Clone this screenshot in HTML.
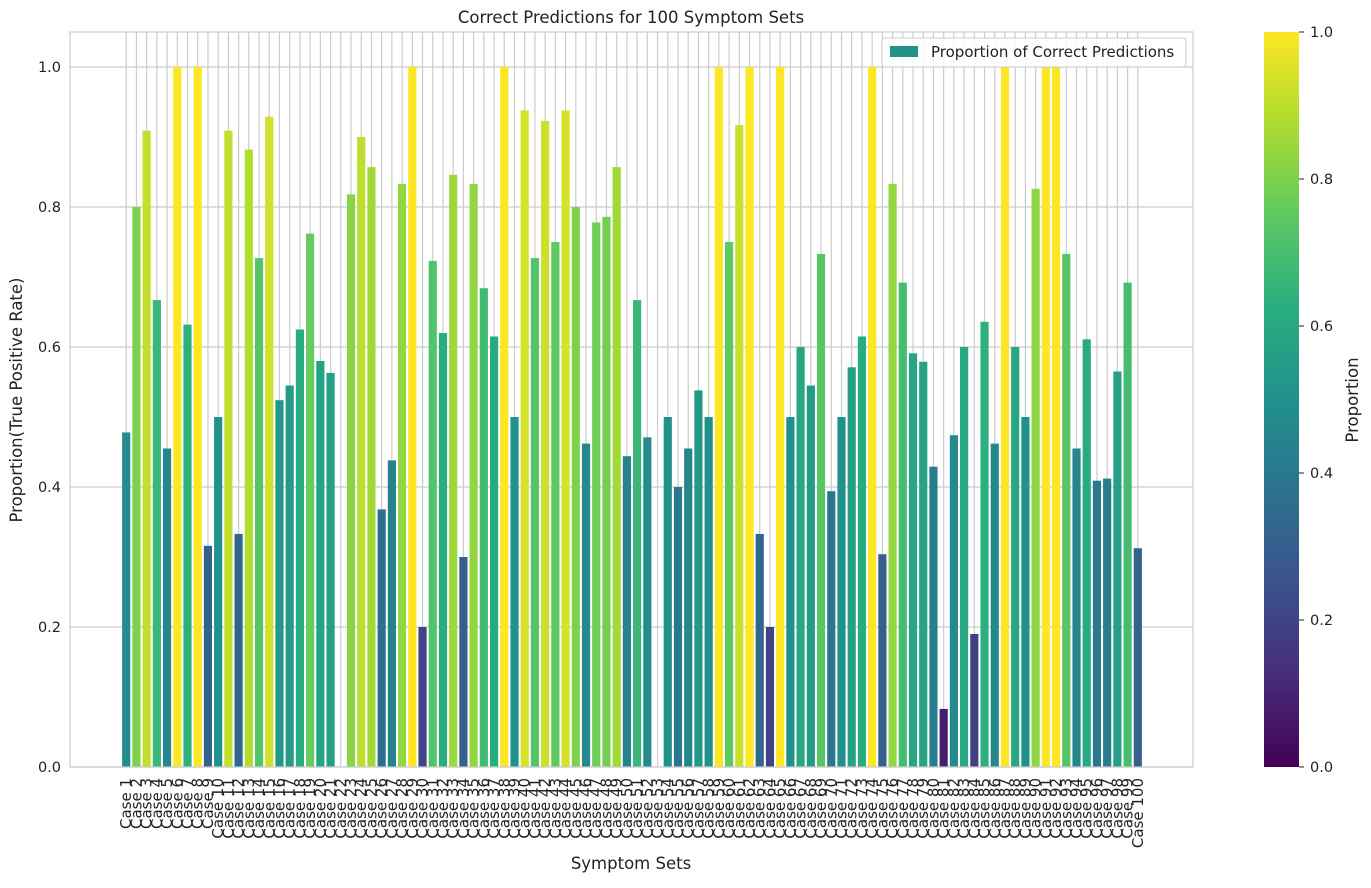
<!DOCTYPE html>
<html><head><meta charset="utf-8"><style>
body{margin:0;background:#fff;font-family:"DejaVu Sans","Liberation Sans",sans-serif}
</style></head><body>
<svg id="chart" width="1371" height="884" xmlns="http://www.w3.org/2000/svg" font-family="DejaVu Sans, Liberation Sans, sans-serif">
<defs>
<linearGradient id="vir" x1="0" y1="1" x2="0" y2="0">
<stop offset="0" stop-color="#440154"/><stop offset="0.125" stop-color="#472d7b"/><stop offset="0.25" stop-color="#3b528b"/><stop offset="0.375" stop-color="#2c728e"/><stop offset="0.5" stop-color="#21918c"/><stop offset="0.625" stop-color="#28ae80"/><stop offset="0.75" stop-color="#5ec962"/><stop offset="0.875" stop-color="#addc30"/><stop offset="1" stop-color="#fde725"/>
</linearGradient>
</defs>
<g id="grid"></g>
<g id="bars"></g>
<g id="xticks"></g>
<g id="yticks"></g>
<rect x="70" y="32" width="1123" height="735" fill="none" stroke="#ccc" stroke-width="1.2"/>
<text x="631" y="23" text-anchor="middle" font-size="16.5" fill="#222">Correct Predictions for 100 Symptom Sets</text>
<text x="631" y="869" text-anchor="middle" font-size="16.5" fill="#222">Symptom Sets</text>
<text transform="translate(22,400) rotate(-90)" text-anchor="middle" font-size="16.5" fill="#222">Proportion(True Positive Rate)</text>
<g>
<rect x="882" y="38" width="304" height="29" rx="3" fill="#fff" fill-opacity="0.85" stroke="#ccc"/>
<rect x="890" y="46" width="28" height="11" fill="#21918c"/>
<text x="931" y="57" font-size="15" fill="#222">Proportion of Correct Predictions</text>
</g>
<g>
<rect x="1264" y="32" width="35" height="735" fill="url(#vir)"/>
<g id="cbticks"></g>
<text transform="translate(1358,400) rotate(-90)" text-anchor="middle" font-size="16.5" fill="#222">Proportion</text>
</g>
</svg>
<script>
const categories = Array.from({length:100},(_, i)=>'Case '+(i+1));
const values = [0.478,0.80,0.909,0.667,0.455,1.0,0.632,1.0,0.316,0.5,
0.909,0.333,0.882,0.727,0.929,0.524,0.545,0.625,0.762,0.58,
0.563,0,0.818,0.9,0.857,0.368,0.438,0.833,1.0,0.2,
0.723,0.62,0.846,0.3,0.833,0.684,0.615,1.0,0.5,0.938,
0.727,0.923,0.75,0.938,0.8,0.462,0.778,0.786,0.857,0.444,
0.667,0.471,0,0.5,0.4,0.455,0.538,0.5,1.0,0.75,
0.917,1.0,0.333,0.2,1.0,0.5,0.6,0.545,0.733,0.394,
0.5,0.571,0.615,1.0,0.304,0.833,0.692,0.591,0.579,0.429,
0.083,0.474,0.6,0.19,0.636,0.462,1.0,0.6,0.5,0.826,
1.0,1.0,0.733,0.455,0.611,0.409,0.412,0.565,0.692,0.3125];
const yTicks = [0,0.2,0.4,0.6,0.8,1.0];
const yTickLabels = ['0.0','0.2','0.4','0.6','0.8','1.0'];
const NS='http://www.w3.org/2000/svg';
const X0=70,X1=1193,Y0=767,Y1=32;
const xmin=-5.5,xmax=104.4,ymax=1.05;
const xs=i=>X0+(i-xmin)/(xmax-xmin)*(X1-X0);
const ys=v=>Y0-v/ymax*(Y0-Y1);
const stops=[[68,1,84],[71,45,123],[59,82,139],[44,114,142],[33,145,140],[40,174,128],[94,201,98],[173,220,48],[253,231,37]];
function vir(v){v=Math.max(0,Math.min(1,v));const t=v*8,i=Math.min(7,Math.floor(t)),f=t-i;const a=stops[i],b=stops[i+1];return 'rgb('+a.map((c,k)=>Math.round(c+(b[k]-c)*f)).join(',')+')';}
function mk(tag,at,parent){const e=document.createElementNS(NS,tag);for(const k in at)e.setAttribute(k,at[k]);parent.appendChild(e);return e;}
const grid=document.getElementById('grid'),bars=document.getElementById('bars'),xt=document.getElementById('xticks'),yt=document.getElementById('yticks'),cb=document.getElementById('cbticks');
const bw=(xs(0.8)-xs(0));
yTicks.forEach((v,i)=>{
 const l=mk('line',{x1:X0,x2:X1,y1:ys(v),y2:ys(v),stroke:'#ccc','stroke-width':1.2},grid);
 
 
 const t=mk('text',{x:X0-9,y:ys(v)+5,'text-anchor':'end','font-size':14.5,fill:'#222'},yt);
 
 
 t.textContent=yTickLabels[i];
 const c=mk('text',{x:1310,y:Y0-v*(Y0-Y1)+5,'font-size':14.5,fill:'#222'},cb);
 
 
 c.textContent=yTickLabels[i];
 mk('line',{x1:1299,x2:1304,y1:Y0-v*(Y0-Y1),y2:Y0-v*(Y0-Y1),stroke:'#222'},cb);
});
categories.forEach((c,i)=>{
 const x=xs(i);
 const g=mk('line',{x1:x,x2:x,y1:Y1,y2:Y0,stroke:'#ccc','stroke-width':1.2},grid);
 
 
 const v=values[i];
 const r=mk('rect',{x:x-bw/2,y:ys(v),width:bw,height:Y0-ys(v),fill:vir(v)},bars);
 
 
 const t=mk('text',{transform:'translate('+(x+5)+',778) rotate(-90)','text-anchor':'end','font-size':15,fill:'#222'},xt);
 
 
 t.textContent=c;
});
</script>
</body></html>
